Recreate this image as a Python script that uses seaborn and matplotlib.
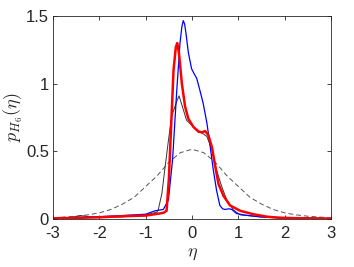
import matplotlib
matplotlib.use("Agg")
import matplotlib.pyplot as plt
import seaborn as sns

# curves
blue_eta = [-3, -2.5, -2.0, -1.5, -1.0, -0.8, -0.62, -0.51, -0.42, -0.33, -0.26, -0.22,
            -0.19, -0.16, -0.13, -0.08, -0.01, 0.05, 0.10, 0.17, 0.24, 0.32, 0.39,
            0.46, 0.53, 0.60, 0.66, 0.71, 0.80, 0.86, 0.96, 1.11, 1.47, 1.9, 2.5, 3]
blue_p = [0.005, 0.01, 0.017, 0.025, 0.035, 0.06, 0.07, 0.14, 0.44, 0.95, 1.30, 1.42,
          1.466, 1.44, 1.37, 1.23, 1.11, 1.07, 1.04, 0.95, 0.855, 0.71, 0.54,
          0.36, 0.21, 0.10, 0.075, 0.07, 0.075, 0.07, 0.04, 0.03, 0.015, 0.008, 0.004, 0.002]

red_eta = [-3, -2.5, -2.0, -1.5, -1.0, -0.8, -0.62, -0.55, -0.50, -0.45, -0.40, -0.35,
           -0.32, -0.28, -0.22, -0.15, -0.08, 0.03, 0.14, 0.22, 0.28, 0.35, 0.43, 0.50,
           0.57, 0.68, 0.82, 1.04, 1.32, 1.61, 1.9, 2.5, 3]
red_p = [0.005, 0.008, 0.012, 0.02, 0.025, 0.035, 0.045, 0.06, 0.30, 0.70, 1.10, 1.27,
         1.30, 1.22, 1.00, 0.83, 0.74, 0.68, 0.645, 0.64, 0.65, 0.62, 0.53, 0.39,
         0.26, 0.17, 0.10, 0.06, 0.035, 0.017, 0.008, 0.004, 0.002]

black_eta = [-3, -2.6, -2.4, -2.2, -2.0, -1.5, -1.0, -0.76, -0.73, -0.65, -0.58, -0.51,
             -0.44, -0.33, -0.28, -0.19, -0.12, 0.03, 0.17, 0.32, 0.43, 0.53, 0.64,
             0.75, 0.89, 1.04, 1.5, 2.0, 2.5, 3]
black_p = [0.005, 0.012, 0.025, 0.015, 0.012, 0.015, 0.03, 0.05, 0.067, 0.19, 0.39, 0.58,
           0.76, 0.87, 0.91, 0.81, 0.73, 0.68, 0.645, 0.61, 0.51, 0.36, 0.24,
           0.14, 0.067, 0.03, 0.015, 0.012, 0.008, 0.004]

gauss_eta = [-3, -2.5, -2.25, -2.0, -1.75, -1.5, -1.25, -1.0, -0.75, -0.5, -0.25, 0,
             0.25, 0.5, 0.75, 1.0, 1.25, 1.5, 1.75, 2.0, 2.25, 2.5, 3]
gauss_p = [0.008, 0.02, 0.03, 0.045, 0.07, 0.11, 0.16, 0.24, 0.32, 0.42, 0.49, 0.515,
           0.49, 0.42, 0.32, 0.24, 0.16, 0.11, 0.07, 0.045, 0.03, 0.02, 0.008]

x_ticks = [-3, -2, -1, 0, 1, 2, 3]
y_ticks = [0, 0.5, 1, 1.5]
y_tick_labels = ["0", "0.5", "1", "1.5"]

sns.set_style("ticks")
plt.rcParams["font.family"] = ["Liberation Sans", "DejaVu Sans"]
plt.rcParams["mathtext.fontset"] = "cm"
plt.rcParams["axes.unicode_minus"] = False

fig = plt.figure(figsize=(3.54, 2.67), dpi=100)
ax = fig.add_axes([0.150, 0.180, 0.785, 0.760])

sns.lineplot(x=gauss_eta, y=gauss_p, ax=ax, color="#555555", lw=0.7,
             linestyle=(0, (5, 3)), sort=False)
sns.lineplot(x=black_eta, y=black_p, ax=ax, color="#333333", lw=0.7, sort=False)
sns.lineplot(x=blue_eta, y=blue_p, ax=ax, color="#0000ff", lw=0.9, sort=False)
sns.lineplot(x=red_eta, y=red_p, ax=ax, color="#ff0000", lw=1.8, sort=False)

ax.set_xlim(-3, 3)
ax.set_ylim(0, 1.5)
ax.set_xticks(x_ticks)
ax.set_xticklabels([str(t) for t in x_ticks])
ax.set_yticks(y_ticks)
ax.set_yticklabels(y_tick_labels)
ax.tick_params(direction="in", length=3, width=0.6, colors="#262626",
               labelsize=12, top=True, right=True)
ax.tick_params(axis="x", pad=5)
ax.tick_params(axis="y", pad=3)
for s in ax.spines.values():
    s.set_color("#262626")
    s.set_linewidth(0.6)

ax.set_xlabel(r"$\eta$", fontsize=13, labelpad=3, color="#262626")
ax.set_ylabel(r"$p_{H_6}(\eta)$", fontsize=13, labelpad=1, color="#262626")

fig.savefig("out.png", dpi=100)
